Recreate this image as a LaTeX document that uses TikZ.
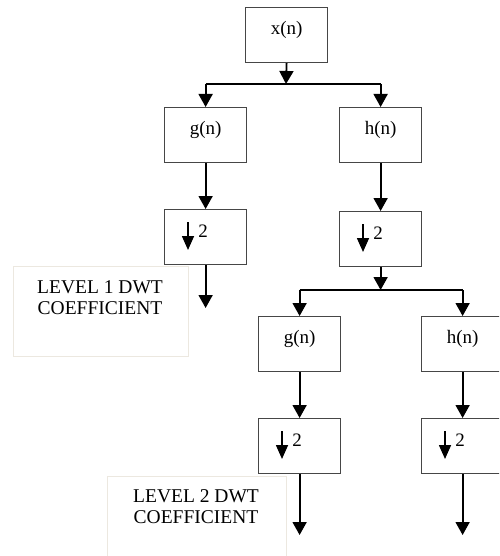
\documentclass[tikz,border=0pt]{standalone}
\usepackage{fontspec}
\setmainfont{Liberation Serif}
\usetikzlibrary{arrows.meta}
\definecolor{boxgray}{RGB}{70,70,70}
\definecolor{faint}{RGB}{236,232,224}
\begin{document}
\begin{tikzpicture}[x=1pt,y=-1pt,
  blk/.style={draw=boxgray,line width=1.2pt,minimum width=82pt,minimum height=55pt,
    inner sep=0pt,anchor=north west,font=\fontsize{19}{21}\selectfont,
    text height=27pt,text depth=28pt},
  lvl/.style={draw=faint,line width=0.8pt,anchor=north west,inner sep=0pt},
  lvltxt/.style={anchor=north,align=center,inner sep=0pt,font=\fontsize{19.5}{21.5}\selectfont},
  two/.style={anchor=base,inner sep=0pt,font=\fontsize{19}{21}\selectfont},
  wire/.style={line width=1.8pt},
  flow/.style={line width=1.8pt,-{Triangle[width=14pt,length=13pt]}},
  dn/.style={line width=1.6pt,-{Triangle[width=12pt,length=14pt]}}]
\clip (0,0) rectangle (499,556);
\useasboundingbox (0,0) rectangle (499,556);

% level text boxes
\node[lvl,minimum width=175pt,minimum height=90pt] (L1) at (13,266) {};
\node[lvltxt] (L1t) at (100,280) {LEVEL 1 DWT\\COEFFICIENT};
\node[lvl,minimum width=179pt,minimum height=90pt] (L2) at (107,476) {};
\node[lvltxt] (L2t) at (196,489) {LEVEL 2 DWT\\COEFFICIENT};

% blocks
\node[blk] (X) at (245,7) {x(n)};
\node[blk] (g1) at (164,107) {g(n)};
\node[blk] (h1) at (339,107) {h(n)};
\node[blk] (d1) at (164,209) {};
\node[blk] (d2) at (339,211) {};
\node[blk] (g2) at (258,316) {g(n)};
\node[blk] (h2) at (421,316) {h(n)};
\node[blk] (d3) at (258,418) {};
\node[blk] (d4) at (421,418) {};

% down-sampler contents
\foreach \d in {d1,d2,d3,d4}{
  \draw[dn] ([xshift=24pt,yshift=-13pt]\d.north west) -- ++(0,28);
  \node[two] (\d t) at ([xshift=39pt,yshift=-28pt]\d.north west) {2};
}

% junctions
\coordinate (j1) at (286,84);
\coordinate (j2) at (380,290);
\draw[flow] (X.south) -- (j1);
\draw[wire] (g1.north |- j1) -- (h1.north |- j1);
\draw[flow] (g1.north |- j1) -- (g1.north);
\draw[flow] (h1.north |- j1) -- (h1.north);
\draw[flow] (g1.south) -- (d1.north);
\draw[flow] (h1.south) -- (d2.north);
\coordinate (e1) at (205,308);
\draw[flow] (d1.south) -- (d1.south |- e1);
\draw[flow] (d2.south) -- (d2.south |- j2);
\draw[wire] (g2.north |- j2) -- (h2.north |- j2);
\draw[flow] (g2.north |- j2) -- (g2.north);
\draw[flow] (h2.north |- j2) -- (h2.north);
\draw[flow] (g2.south) -- (d3.north);
\draw[flow] (h2.south) -- (d4.north);
\coordinate (e2) at (298,535);
\draw[flow] (d3.south) -- (d3.south |- e2);
\draw[flow] (d4.south) -- (d4.south |- e2);
\end{tikzpicture}
\end{document}
